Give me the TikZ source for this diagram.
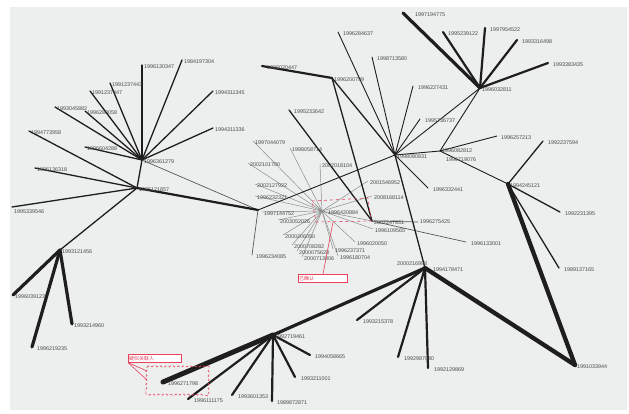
\documentclass[tikz,border=0pt]{standalone}
\usepackage{fontspec}
\setmainfont{Liberation Sans}
\newfontfamily\cjk{Noto Sans CJK SC}
\usetikzlibrary{decorations.pathmorphing}
\definecolor{bg}{HTML}{EDEFEF}
\definecolor{ink}{HTML}{1E1E1E}
\definecolor{txt}{HTML}{4A4A4A}
\definecolor{soft}{HTML}{8C8C8C}
\definecolor{mark}{HTML}{E8415C}
\tikzset{
  link/.style={line cap=round, line join=round},
  hair/.style={link, draw=soft, line width=0.5pt},
  thin/.style={link, draw=ink!75, line width=0.7pt},
  fine/.style={link, draw=ink, line width=0.9pt},
  mid/.style={link, draw=ink, line width=1.3pt},
  bold/.style={link, draw=ink, line width=2.2pt},
  heavy/.style={link, draw=ink, line width=3.2pt},
  massive/.style={link, draw=ink, line width=4.3pt},
  lbl/.style={font=\fontsize{5.4}{6}\selectfont, text=txt, inner sep=0.4pt,
              anchor=west, xshift=1.5pt, yshift=-1.6pt},
  redline/.style={draw=mark, line width=0.6pt},
  tagbox/.style={draw=mark, fill=white, line width=0.6pt, anchor=north west,
                 minimum height=8pt, inner sep=0pt},
  tagtext/.style={font=\cjk\fontsize{5}{5}\selectfont, text=mark, anchor=west, inner sep=1pt}
}
\newcommand\nametag[3][]{\node[lbl,#1] (#2-t) at (#2) {#3};}
\begin{document}
\begin{tikzpicture}[x=1pt,y=-1pt]
\useasboundingbox (0,0) rectangle (629,414);
\fill[white] (0,0) rectangle (629,414);
\fill[bg] (10,7) rectangle (627,410);

% hubs
\coordinate (A1) at (142,160);
\coordinate (A2) at (137,188);
\coordinate (A3) at (60,250);
\coordinate (B) at (258,210);
\coordinate (C) at (395,155);
\coordinate (D) at (480,88);
\coordinate (E) at (508,184);
\coordinate (F) at (575,365);
\coordinate (G) at (440,151);
\coordinate (G2) at (441,158);
\coordinate (H) at (425,268);
\coordinate (J) at (396,262);
\coordinate (K) at (332,78);
\coordinate (L) at (372,221);
\coordinate (M) at (373,229);
\coordinate (N) at (273,335);
\coordinate (R) at (322,211);

% leaves
\coordinate (a1) at (142,65);  \coordinate (a2) at (182,60);
\coordinate (a3) at (213,91);  \coordinate (a4) at (213,128);
\coordinate (a5) at (110,83);  \coordinate (a6) at (90,91);
\coordinate (a7) at (85,111);  \coordinate (a8) at (55,107);
\coordinate (a9) at (85,147);
\coordinate (b1) at (29,131);  \coordinate (b2) at (35,168);
\coordinate (b3) at (12,207);
\coordinate (c1) at (13,295);  \coordinate (c2) at (72,324);
\coordinate (c3) at (32,347);
\coordinate (d1) at (252,255);
\coordinate (k1) at (262,66);
\coordinate (l1) at (289,110); \coordinate (l2) at (418,222);
\coordinate (l3) at (466,242);
\coordinate (e1) at (338,32);  \coordinate (e2) at (372,57);
\coordinate (e3) at (413,86);  \coordinate (e4) at (420,119);
\coordinate (e5) at (428,188);
\coordinate (f1) at (403,13);  \coordinate (f2) at (443,32);
\coordinate (f3) at (485,28);  \coordinate (f4) at (517,40);
\coordinate (f5) at (548,63);
\coordinate (g1) at (497,136);
\coordinate (h1) at (543,141); \coordinate (h2) at (560,212);
\coordinate (h3) at (559,268);
\coordinate (n1) at (163,382); \coordinate (n2) at (188,399);
\coordinate (n3) at (232,395); \coordinate (n4) at (272,401);
\coordinate (n5) at (295,377); \coordinate (n6) at (310,355);
\coordinate (p1) at (357,320); \coordinate (p2) at (398,357);
\coordinate (p3) at (428,368);
\coordinate (r1) at (253,141); \coordinate (r2) at (290,148);
\coordinate (r3) at (248,163); \coordinate (r4) at (255,184);
\coordinate (r5) at (255,196); \coordinate (r6) at (262,212);
\coordinate (r7) at (278,220); \coordinate (r8) at (283,235);
\coordinate (r9) at (292,245); \coordinate (r10) at (297,251);
\coordinate (r11) at (302,257); \coordinate (r12) at (333,249);
\coordinate (r13) at (338,256); \coordinate (r14) at (355,242);
\coordinate (r15) at (320,164); \coordinate (r16) at (368,181);
\coordinate (r17) at (372,196);

% thin grey fan of the central group
\foreach \t in {r1,r2,r3,r4,r5,r6,r7,r8,r9,r10,r11,r12,r13,r14,r15,r16,r17,L,M}
  \draw[hair] (R) -- (\t);

% left clusters
\foreach \t in {a1,a2,a3,a4,a5,a6,a7,a8,a9,A2} \draw[mid] (A1) -- (\t);
\foreach \t in {b1,b2,b3,A3} \draw[mid] (A2) -- (\t);
\foreach \t in {c1,c2,c3} \draw[heavy] (A3) -- (\t);
\draw[thin] (A1) -- (B);
\draw[bold] (A2) -- (B);
\draw[thin] (B) -- (d1);
\draw[fine] (B) -- (C);

% upper middle
\draw[bold] (K) -- (k1);
\draw[mid] (K) -- (C);
\draw[mid] (K) -- (L);
\draw[mid] (L) -- (l1);
\draw[thin] (L) -- (l2);
\draw[thin] (L) -- (l3);
\foreach \t in {e1,e2,e3,e4,e5,D,G} \draw[fine] (C) -- (\t);
\draw[mid] (C) -- (H);

% upper right
\draw[heavy] (D) -- (f1);
\foreach \t in {f2,f3,f4,f5} \draw[bold] (D) -- (\t);
\draw[fine] (D) -- (G);
\draw[fine] (G) -- (g1);
\draw[fine] (G) -- (E);
\foreach \t in {h1,h2,h3} \draw[mid] (E) -- (\t);
\draw[massive] (E) -- (F);

% lower part
\draw[massive] (H) -- (F);
\draw[heavy] (H) -- (N);
\draw[line width=5pt, draw=ink, line cap=round] (N) -- (n1);
\foreach \t in {n2,n3,n4,n5,n6} \draw[bold] (N) -- (\t);
\foreach \t in {p1,p2,p3} \draw[bold] (H) -- (\t);

% labels
\nametag{A1}{1996361279}
\nametag{A2}{1995121857}
\nametag{A3}{1993121456}
\nametag{C}{1998080831}
\nametag{D}{1996032811}
\nametag{E}{1994245121}
\nametag{F}{1991033944}
\nametag[yshift=2pt]{G}{1996082812}
\nametag[xshift=3pt]{G2}{1996719076}
\nametag[xshift=6pt]{H}{1994178471}
\nametag[yshift=-0.5pt,xshift=-1pt]{J}{2000216998}
\nametag{K}{1996200799}
\nametag{L}{2002247931}
\nametag{M}{1996109565}
\nametag{N}{1992719461}
\nametag[xshift=4pt]{R}{1996420884}
\nametag{a1}{1996130347}
\nametag{a2}{1984197304}
\nametag{a3}{1994311345}
\nametag{a4}{1994311336}
\nametag{a5}{1991237443}
\nametag{a6}{1991237447}
\nametag{a7}{1996280058}
\nametag{a8}{1993045882}
\nametag{a9}{1996604288}
\nametag{b1}{1994773958}
\nametag{b2}{1996136318}
\nametag[yshift=-3pt]{b3}{1995339546}
\nametag{c1}{1996039123}
\nametag{c2}{1993214960}
\nametag[xshift=3pt]{c3}{1996219235}
\nametag[xshift=2pt]{d1}{1996234085}
\nametag[xshift=3pt]{k1}{1996020447}
\nametag[xshift=3pt]{l1}{1995233642}
\nametag[yshift=1.5pt]{l2}{1996275425}
\nametag[xshift=3pt]{l3}{1996133001}
\nametag[xshift=3pt]{e1}{1996284637}
\nametag[xshift=3pt]{e2}{1998713580}
\nametag[xshift=3pt]{e3}{1996227431}
\nametag[xshift=3pt]{e4}{1995736737}
\nametag[xshift=3pt]{e5}{1996332441}
\nametag[xshift=10pt]{f1}{1997194775}
\nametag[xshift=3pt]{f2}{1995239122}
\nametag[xshift=3pt]{f3}{1997954522}
\nametag[xshift=3pt]{f4}{1993316498}
\nametag[xshift=3pt]{f5}{1993383435}
\nametag[xshift=2pt]{g1}{1996257213}
\nametag[xshift=3pt]{h1}{1992237594}
\nametag[xshift=3pt]{h2}{1992231395}
\nametag[xshift=3pt]{h3}{1989137165}
\nametag[xshift=3pt]{n1}{1996271798}
\nametag[xshift=4pt]{n2}{1996111175}
\nametag[xshift=4pt]{n3}{1993601353}
\nametag[xshift=3pt]{n4}{1989872871}
\nametag[xshift=4pt]{n5}{1993211001}
\nametag[xshift=3pt]{n6}{1994058665}
\nametag[xshift=4pt]{p1}{1993215378}
\nametag[xshift=4pt]{p2}{1992987030}
\nametag[xshift=4pt]{p3}{1992129869}
\nametag{r1}{1997044079}
\nametag{r2}{1998058714}
\nametag{r3}{2002101700}
\nametag{r4}{2002127922}
\nametag{r5}{1996232321}
\nametag{r6}{1997144752}
\nametag{r7}{2003052026}
\nametag{r8}{2000206050}
\nametag{r9}{2000708282}
\nametag{r10}{2000075628}
\nametag{r11}{2000713806}
\nametag{r12}{1996237371}
\nametag{r13}{1996180704}
\nametag{r14}{1996020050}
\nametag{r15}{2002018104}
\nametag{r16}{2001546952}
\nametag{r17}{2008168114}

% central group callout
\draw[redline, dashed] (312,201) -- (368,198) -- (371,221) -- (316,222) -- cycle;
\node[tagbox, minimum width=49pt] (tag1) at (298,274) {};
\node[tagtext] (tag1-t) at (tag1.west) {已确认};
\draw[redline] (333,222) -- (tag1.north -| 323,0);

% lower left callout
\node[tagbox, minimum width=53pt] (tag2) at (128,354) {};
\node[tagtext] (tag2-t) at (tag2.west) {疑似关联人};
\coordinate (cl1) at (147,371);
\coordinate (cl2) at (147,380);
\draw[redline] (tag2.south west) -- (cl1);
\draw[redline] (tag2.south west) -- (cl2);
\draw[redline, dashed, decorate, decoration={bumps, segment length=5pt, amplitude=1.2pt}]
  (147,367) -- (208,367) -- (208,394) -- (147,394) -- cycle;
\end{tikzpicture}
\end{document}
